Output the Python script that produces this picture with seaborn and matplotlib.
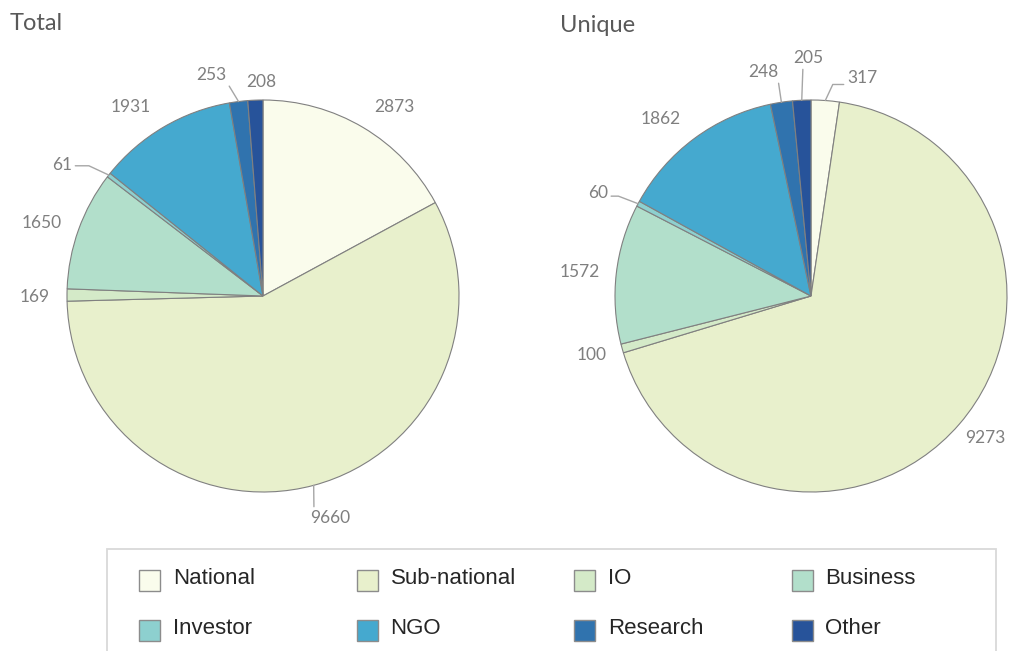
import numpy as np
import matplotlib
matplotlib.use("Agg")
import matplotlib.pyplot as plt
import seaborn as sns
from matplotlib.patches import Rectangle

# ---------------- data ----------------
categories = ["National", "Sub-national", "IO", "Business",
              "Investor", "NGO", "Research", "Other"]
total_values = [2873, 9660, 169, 1650, 61, 1931, 253, 208]
unique_values = [317, 9273, 100, 1572, 60, 1862, 248, 205]
titles = ["Total", "Unique"]

colors = ["#fafcec", "#e8f0cc", "#d4eac8", "#b2dfcb",
          "#8dd0cf", "#45a9cf", "#3073ae", "#27539a"]

# ---------------- layout (label placement) ----------------
# label polar positions (deg, radius in pie-radius units)
total_lab_ang = [55.1, -73.2, 180.2, 161.7, 146.9, 124.9, 103.2, 90.5]
total_lab_rad = [1.176, 1.183, 1.163, 1.188, 1.224, 1.176, 1.159, 1.092]
# leader lines: None or (relpos, elbow angle or None)
total_leader = [None, ((0.1, 1.0), None), None, None,
                ((1.0, 0.45), 155), None, ((1.0, 0.1), None), None]

unique_lab_ang = [76.8, -39.2, 195.1, 174.1, 154.2, 130.3, 102.1, 90.7]
unique_lab_rad = [1.142, 1.146, 1.157, 1.185, 1.208, 1.183, 1.169, 1.214]
unique_leader = [((0.0, 0.1), 65), None, None, None,
                 ((1.0, 0.3), 159), None, ((1.0, 0.0), None),
                 ((0.33, 0.0), None)]

sns.set_theme(style="white")
sns.set_palette(colors)
plt.rcParams['font.family'] = ['Lato', 'DejaVu Sans']

W, H = 1018, 651
fig = plt.figure(figsize=(W / 100, H / 100), dpi=100)

R_PX = 196
LIM = 1.3


def pie_axes(cx, cy):
    half = LIM * R_PX
    return fig.add_axes([(cx - half) / W, 1 - (cy + half) / H,
                         2 * half / W, 2 * half / H])


def draw_pie(ax, values, lab_ang, lab_rad, leader):
    wedges, _ = ax.pie(values, colors=colors, startangle=90, counterclock=False,
                       radius=1.0,
                       wedgeprops=dict(edgecolor="#808080", linewidth=0.8))
    ax.set_xlim(-LIM, LIM)
    ax.set_ylim(-LIM, LIM)
    ax.set_aspect("equal")
    ax.axis("off")
    for w, v, a, r, ld in zip(wedges, values, lab_ang, lab_rad, leader):
        tx, ty = r * np.cos(np.radians(a)), r * np.sin(np.radians(a))
        mid = np.radians((w.theta1 + w.theta2) / 2)
        ex, ey = np.cos(mid), np.sin(mid)
        if ld is not None:
            relpos, elbow = ld
            cs = "arc3" if elbow is None else f"angle,angleA=0,angleB={elbow},rad=0"
            ax.annotate(f"{v}", xy=(ex, ey), xytext=(tx, ty),
                        ha="center", va="center", fontsize=12.5,
                        color="#7f7f7f", annotation_clip=False,
                        arrowprops=dict(arrowstyle="-", color="#a6a6a6",
                                        lw=1.0, shrinkA=0, shrinkB=0,
                                        relpos=relpos, connectionstyle=cs))
        else:
            ax.text(tx, ty, f"{v}", ha="center", va="center",
                    fontsize=12.5, color="#7f7f7f", clip_on=False)
    return wedges


ax1 = pie_axes(263, 296)
draw_pie(ax1, total_values, total_lab_ang, total_lab_rad, total_leader)
ax2 = pie_axes(811, 296)
draw_pie(ax2, unique_values, unique_lab_ang, unique_lab_rad, unique_leader)

fig.text(10 / W, 1 - 23 / H, titles[0], fontsize=17, color="#595959",
         ha="left", va="center")
fig.text(560 / W, 1 - 25 / H, titles[1], fontsize=17, color="#595959",
         ha="left", va="center")

# ---------------- legend ----------------
def px(x, y):
    return x / W, 1 - y / H

frame_x0, frame_x1, frame_top = 107, 996, 549
fig.add_artist(Rectangle(px(frame_x0, 700), (frame_x1 - frame_x0) / W,
                         (700 - frame_top) / H, transform=fig.transFigure,
                         facecolor="none", edgecolor="#d9d9d9", lw=1.3,
                         clip_on=False))
sq = 21
for i, (cat, col) in enumerate(zip(categories, colors)):
    row, c = divmod(i, 4)
    x0 = 139 + c * 217.5
    yc = 580 + row * 50.5
    fig.add_artist(Rectangle(px(x0, yc + sq / 2), sq / W, sq / H,
                             transform=fig.transFigure, facecolor=col,
                             edgecolor="#8c8c8c", lw=1.0))
    fig.text(*px(x0 + 34, yc - 2), cat, fontsize=16, color="#262626",
             ha="left", va="center", family=["Liberation Sans", "DejaVu Sans"])

fig.savefig("out.png", dpi=100)
